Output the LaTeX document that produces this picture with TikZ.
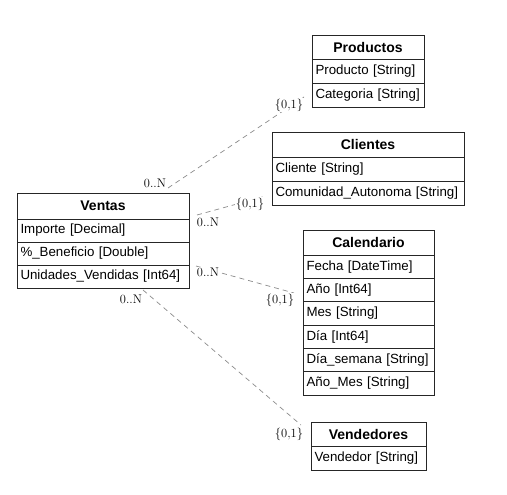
\documentclass[tikz,border=0pt]{standalone}
\usepackage{fontspec}
\newfontfamily\arialfam{Liberation Sans}
\newcommand\fldfont{\arialfam\fontsize{13.3}{15}\selectfont}
\newcommand\hdrfont{\arialfam\bfseries\fontsize{14}{16}\selectfont}
\newcommand\cardfont{\fontsize{12.5}{14}\selectfont}
\newcommand\fl[1]{\mbox{#1}}
\begin{document}
\begin{tikzpicture}[x=1pt,y=-1pt,
  hdr/.style={draw=black!85, line width=0.8pt, inner sep=0pt, outer sep=0pt, anchor=north west, font=\hdrfont},
  fld/.style={draw=black!85, line width=0.8pt, inner xsep=3.5pt, inner ysep=0pt, outer sep=0pt, anchor=north west, align=left, font=\fldfont},
  rel/.style={draw=black!45, dash pattern=on 5pt off 4pt, line width=0.7pt},
  card/.style={font=\cardfont, inner sep=0.5pt, fill=white}]
\useasboundingbox[fill=white] (0,0) rectangle (507,495);

% Ventas
\node[hdr, minimum width=172pt, minimum height=26pt] (venH) at (17,193) {Ventas};
\node[fld, text width=165pt, minimum height=23pt] (ven1) at (venH.south west) {\fl{Importe [Decimal]}};
\node[fld, text width=165pt, minimum height=23pt] (ven2) at (ven1.south west) {\fl{\%\_Beneficio [Double]}};
\node[fld, text width=165pt, minimum height=23pt] (ven3) at (ven2.south west) {\fl{Unidades\_Vendidas [Int64]}};

% Productos
\node[hdr, minimum width=112pt, minimum height=24pt] (proH) at (312,35) {Productos};
\node[fld, text width=105pt, minimum height=24pt] (pro1) at (proH.south west) {\fl{Producto [String]}};
\node[fld, text width=105pt, minimum height=24pt] (pro2) at (pro1.south west) {\fl{Categoria [String]}};

% Clientes
\node[hdr, minimum width=192pt, minimum height=25pt] (cliH) at (272,132) {Clientes};
\node[fld, text width=185pt, minimum height=24pt] (cli1) at (cliH.south west) {\fl{Cliente [String]}};
\node[fld, text width=185pt, minimum height=24pt] (cli2) at (cli1.south west) {\fl{Comunidad\_Autonoma [String]}};

% Calendario
\node[hdr, minimum width=131pt, minimum height=25pt] (calH) at (303,230) {Calendario};
\node[fld, text width=124pt, minimum height=23.33pt] (cal1) at (calH.south west) {\fl{Fecha [DateTime]}};
\node[fld, text width=124pt, minimum height=23.33pt] (cal2) at (cal1.south west) {\fl{Año [Int64]}};
\node[fld, text width=124pt, minimum height=23.33pt] (cal3) at (cal2.south west) {\fl{Mes [String]}};
\node[fld, text width=124pt, minimum height=23.33pt] (cal4) at (cal3.south west) {\fl{Día [Int64]}};
\node[fld, text width=124pt, minimum height=23.33pt] (cal5) at (cal4.south west) {\fl{Día\_semana [String]}};
\node[fld, text width=124pt, minimum height=23.33pt] (cal6) at (cal5.south west) {\fl{Año\_Mes [String]}};

% Vendedores
\node[hdr, minimum width=115pt, minimum height=24pt] (vdoH) at (311,422) {Vendedores};
\node[fld, text width=108pt, minimum height=24pt] (vdo1) at (vdoH.south west) {\fl{Vendedor [String]}};

% connector end points
\coordinate (a1) at (168,188);
\coordinate (b1) at (304,97);
\coordinate (a2) at (197,215);
\coordinate (b2) at (266,196);
\coordinate (a3) at (196,266);
\coordinate (b3) at (294,293);
\coordinate (a4) at (143,290);
\coordinate (b4) at (301,425);

\draw[rel] (a1) -- (b1);
\draw[rel] (a2) -- (b2);
\draw[rel] (a3) -- (b3);
\draw[rel] (a4) -- (b4);

% cardinalities
\node[card] (l1a) at (155,183) {0..N};
\node[card] (l1b) at (289,105) {\{0,1\}};
\node[card] (l2a) at (208,222) {0..N};
\node[card] (l2b) at (250,204) {\{0,1\}};
\node[card] (l3a) at (208,272) {0..N};
\node[card] (l3b) at (280,300) {\{0,1\}};
\node[card] (l4a) at (131,299) {0..N};
\node[card] (l4b) at (289,434) {\{0,1\}};
\end{tikzpicture}
\end{document}
